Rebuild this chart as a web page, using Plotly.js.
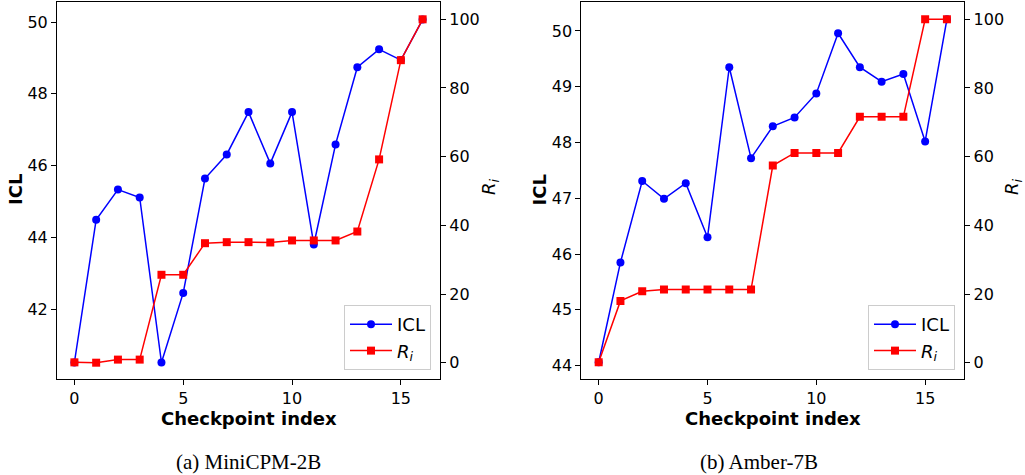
<!DOCTYPE html>
<html>
<head>
<meta charset="utf-8">
<script src="https://cdn.plot.ly/plotly-3.0.1.min.js"></script>
<style>html,body{margin:0;padding:0;background:#fff;}#chart{width:1025px;height:475px;}</style>
</head>
<body>
<div id="chart"></div>
<script>
const checkpoints = [0,1,2,3,4,5,6,7,8,9,10,11,12,13,14,15,16];
const miniIcl = [40.51,44.49,45.33,45.11,40.51,42.45,45.64,46.31,47.49,46.06,47.49,43.80,46.59,48.74,49.24,48.94,50.07];
const miniR = [0.1,0.0,0.9,0.9,25.6,25.6,34.8,35.1,35.1,35.0,35.6,35.6,35.6,38.2,59.2,88.1,100];
const amberIcl = [44.06,45.85,47.31,46.99,47.27,46.30,49.35,47.72,48.29,48.45,48.88,49.96,49.35,49.09,49.23,48.02,50.21];
const amberR = [0.1,18.0,20.8,21.3,21.3,21.3,21.3,21.3,57.4,61.1,61.1,61.1,71.6,71.6,71.6,100,100];
const xTicks = [0,5,10,15];
const miniIclTicks = [42,44,46,48,50];
const amberIclTicks = [44,45,46,47,48,49,50];
const rTicks = [0,20,40,60,80,100];
const captions = ["(a) MiniCPM-2B", "(b) Amber-7B"];

const FONT = "DejaVu Sans";
const tickFont = {family: FONT, size: 16, color: "#000"};
const blue = "#0000ff", red = "#ff0000";

function iclTrace(y, xa, ya, leg) {
  return {x: checkpoints, y: y, xaxis: xa, yaxis: ya, type: "scatter", mode: "lines+markers",
    name: "ICL", legend: leg, line: {color: blue, width: 1.5}, marker: {color: blue, symbol: "circle", size: 8}};
}
function rTrace(y, xa, ya, leg) {
  return {x: checkpoints, y: y, xaxis: xa, yaxis: ya, type: "scatter", mode: "lines+markers",
    name: "<i>R</i><sub><i>i</i></sub>", legend: leg, line: {color: red, width: 1.5}, marker: {color: red, symbol: "square", size: 8}};
}

const data = [
  iclTrace(miniIcl, "x", "y", "legend"),
  rTrace(miniR, "x", "y2", "legend"),
  iclTrace(amberIcl, "x2", "y3", "legend2"),
  rTrace(amberR, "x2", "y4", "legend2")
];

function xAxis(domain, anchor) {
  return {domain: domain, anchor: anchor, range: [-0.8, 16.8], tickvals: xTicks, ticks: "outside", ticklen: 5,
    tickwidth: 1, tickcolor: "#000", showline: true, linecolor: "#000", linewidth: 1, mirror: true,
    showgrid: false, zeroline: false, tickfont: tickFont, fixedrange: true};
}
function yAxis(range, ticks, anchor, extra) {
  return Object.assign({domain: [0.2021, 0.9958], anchor: anchor, range: range, tickvals: ticks, ticks: "outside",
    ticklen: 5, tickwidth: 1, tickcolor: "#000", showline: true, linecolor: "#000", linewidth: 1,
    showgrid: false, zeroline: false, tickfont: tickFont, fixedrange: true}, extra || {});
}
function legendAt(xr) {
  return {x: xr, xanchor: "right", y: 0.221, yanchor: "bottom", bgcolor: "rgba(255,255,255,0.8)",
    bordercolor: "#cccccc", borderwidth: 1, font: {family: FONT, size: 18, color: "#000"}, tracegroupgap: 0,
    itemwidth: 42};
}

const axisTitleFont = {family: FONT, size: 18, color: "#000", weight: "bold"};
const annotations = [
  {text: "<b>ICL</b>", x: 15/1025, y: 1-190/475, textangle: -90, font: axisTitleFont},
  {text: "<i>R</i><sub><i>i</i></sub>", x: 490/1025, y: 1-187/475, textangle: -90, font: {family: FONT, size: 18, color: "#000"}},
  {text: "<b>Checkpoint index</b>", x: 248.5/1025, y: 1-418/475, font: axisTitleFont},
  {text: "<b>ICL</b>", x: 538.5/1025, y: 1-190/475, textangle: -90, font: axisTitleFont},
  {text: "<i>R</i><sub><i>i</i></sub>", x: 1013/1025, y: 1-187/475, textangle: -90, font: {family: FONT, size: 18, color: "#000"}},
  {text: "<b>Checkpoint index</b>", x: 773/1025, y: 1-418/475, font: axisTitleFont},
  {text: captions[0], x: 248/1025, y: 1-462/475, font: {family: "Liberation Serif", size: 21, color: "#000"}},
  {text: captions[1], x: 759/1025, y: 1-462/475, font: {family: "Liberation Serif", size: 21, color: "#000"}}
].map(a => Object.assign({xref: "paper", yref: "paper", showarrow: false, xanchor: "center", yanchor: "middle"}, a));

const layout = {
  width: 1025, height: 475,
  margin: {l: 0, r: 0, t: 0, b: 0},
  paper_bgcolor: "#fff", plot_bgcolor: "#fff",
  showlegend: true,
  xaxis: xAxis([0.0556, 0.4293], "y"),
  yaxis: yAxis([40.05, 50.56], miniIclTicks, "x"),
  yaxis2: yAxis([-4.75, 105.04], rTicks, "x", {overlaying: "y", side: "right"}),
  xaxis2: xAxis([0.5671, 0.9408], "y3"),
  yaxis3: yAxis([43.76, 50.52], amberIclTicks, "x2"),
  yaxis4: yAxis([-4.75, 105.04], rTicks, "x2", {overlaying: "y3", side: "right"}),
  legend: legendAt(431/1025),
  legend2: legendAt(955/1025),
  annotations: annotations
};

Plotly.newPlot("chart", data, layout, {staticPlot: true, displayModeBar: false});
</script>
</body>
</html>
